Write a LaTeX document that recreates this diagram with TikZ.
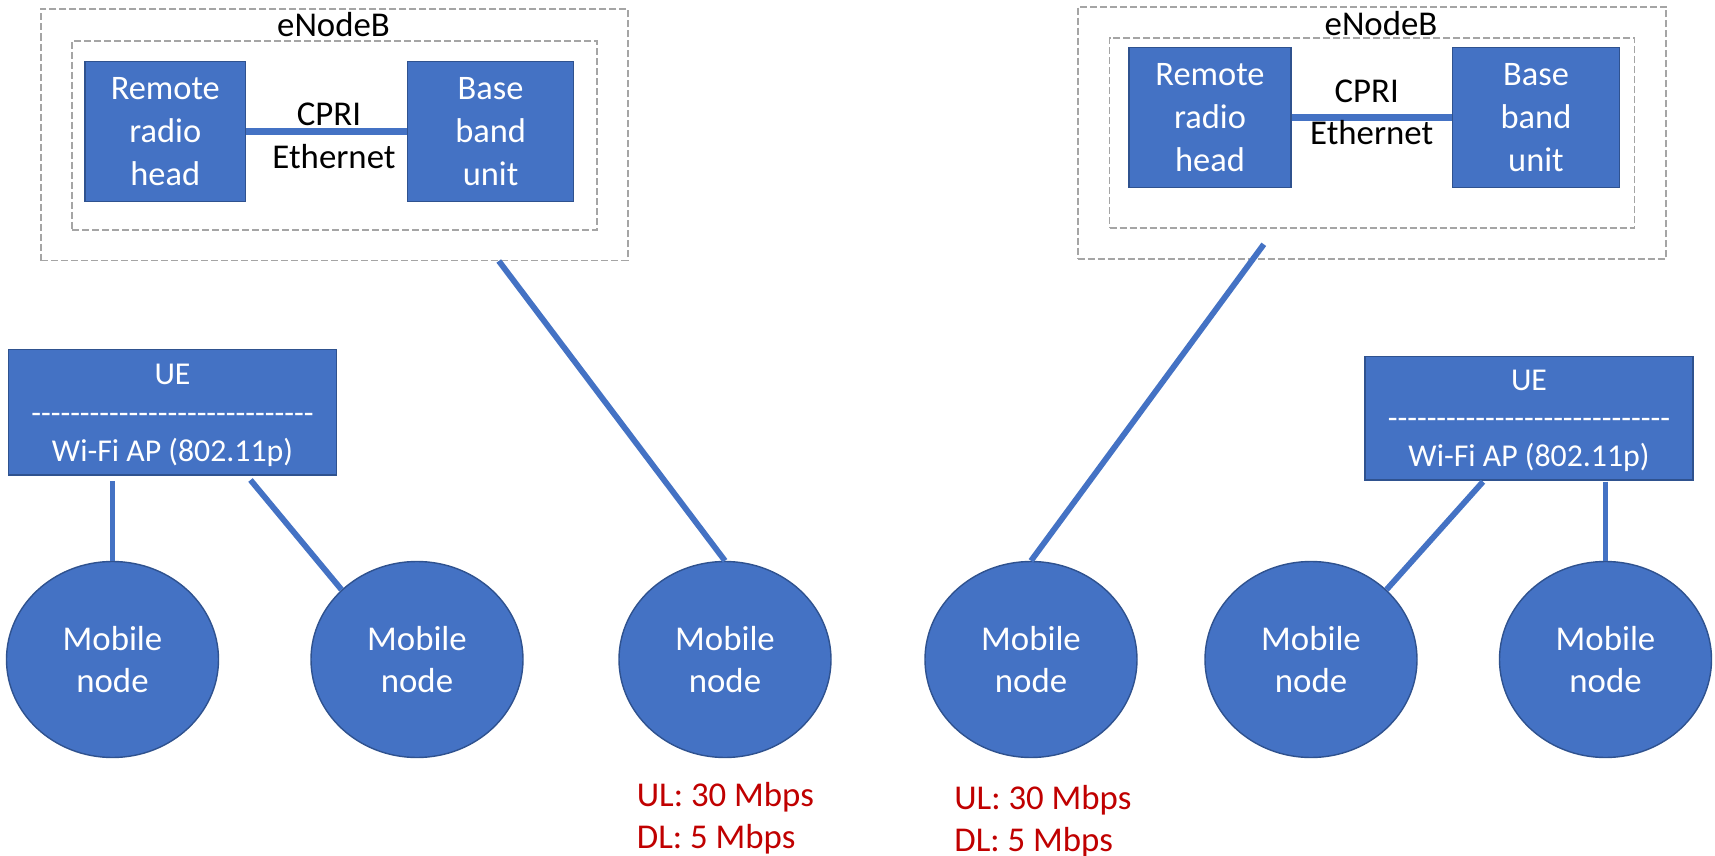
\documentclass[tikz,border=0pt]{standalone}
\usepackage{fontspec}
\setmainfont{Carlito}
\usetikzlibrary{shapes.geometric,calc}
\definecolor{nodeblue}{HTML}{4472C4}
\definecolor{edgeblue}{HTML}{2F528F}
\definecolor{boxgray}{HTML}{A5A5A5}
\definecolor{ratered}{HTML}{C00000}
% a row of separate hyphens (kept apart so they do not merge into dashes)
\newcommand\dashrow{\foreach \k in {1,...,29}{-\kern0pt}}
\begin{document}
\begin{tikzpicture}[x=0.5pt,y=-0.5pt,
  unitbox/.style={draw=edgeblue, line width=0.7pt, fill=nodeblue, text=white,
    align=center, inner sep=0pt, minimum height=70pt,
    font=\fontsize{17.2}{21.5}\selectfont},
  mobile/.style={ellipse, draw=edgeblue, line width=0.7pt, fill=nodeblue,
    text=white, align=center, inner sep=0pt, minimum width=106pt,
    minimum height=98pt, font=\fontsize{17.4}{21.15}\selectfont},
  uebox/.style={draw=edgeblue, line width=0.7pt, fill=nodeblue, inner sep=0pt},
  uetext/.style={text=white, align=center, anchor=base, inner sep=0pt,
    font=\fontsize{15.9}{19.15}\selectfont},
  container/.style={draw=boxgray, line width=0.95pt,
    dash pattern=on 3.5pt off 1.5pt, inner sep=0pt},
  caption/.style={text=black, anchor=base, inner sep=0pt,
    font=\fontsize{17.4}{21}\selectfont},
  wire/.style={draw=nodeblue, line width=2.9pt},
  fronthaul/.style={draw=nodeblue, line width=3.5pt},
  rate/.style={text=ratered, align=left, anchor=base west, inner sep=0pt,
    font=\fontsize{17.4}{21}\selectfont}
]
\fill[white] (0,0) rectangle (1715,856);
\useasboundingbox (0,0) rectangle (1715,856);

% ---- left eNodeB ----
\node[container, minimum width=293.5pt, minimum height=125.75pt] (enbAouter) at (334.3,134.75) {};
\node[container, minimum width=262.4pt, minimum height=94.65pt] (enbAinner) at (334.6,135.35) {};
\node[caption] (enbAname) at (333.5,36.7) {eNodeB};
\node[unitbox, minimum width=80.4pt] (rrhA) at (165.3,131.7) {Remote\\radio\\head};
\node[unitbox, minimum width=82.9pt] (bbuA) at (490.6,131.7) {Base\\band\\unit};
\draw[fronthaul] (rrhA) -- (bbuA);
\node[caption] (cpriA) at (329,126) {CPRI};
\node[caption] (ethA) at (334,168.3) {Ethernet};

% ---- right eNodeB ----
\node[container, minimum width=294.1pt, minimum height=126.3pt] (enbBouter) at (1371.8,133) {};
\node[container, minimum width=262.5pt, minimum height=95.3pt] (enbBinner) at (1372,133) {};
\node[caption] (enbBname) at (1381,35.5) {eNodeB};
\node[unitbox, minimum width=81pt] (rrhB) at (1210,117.7) {Remote\\radio\\head};
\node[unitbox, minimum width=83.5pt] (bbuB) at (1536,117.7) {Base\\band\\unit};
\draw[fronthaul] (rrhB) -- (bbuB);
\node[caption] (cpriB) at (1366.7,102.7) {CPRI};
\node[caption] (ethB) at (1371.7,145) {Ethernet};

% ---- UE / Wi-Fi access points (text anchored on its last baseline) ----
\node[uebox, minimum width=164.2pt, minimum height=62.85pt] (ueA) at (172.5,412.2) {};
\node[uetext] (ueAtext) at ($(ueA.north)+(0,112.8)$) {UE\\\dashrow\\Wi-Fi AP (802.11p)};
\node[uebox, minimum width=164pt, minimum height=61.75pt] (ueB) at (1529,418.2) {};
\node[uetext] (ueBtext) at ($(ueB.north)+(0,111)$) {UE\\\dashrow\\Wi-Fi AP (802.11p)};

% ---- mobile nodes ----
\node[mobile] (mA) at (112.5,659.5) {Mobile\\node};
\node[mobile] (mB) at (417,659.5) {Mobile\\node};
\node[mobile] (mC) at (725,659.5) {Mobile\\node};
\node[mobile] (mD) at (1031,659.5) {Mobile\\node};
\node[mobile] (mE) at (1311,659.5) {Mobile\\node};
\node[mobile] (mF) at (1605.5,659.5) {Mobile\\node};

% ---- radio links ----
\coordinate (ueAfootA) at (112.5,481);
\coordinate (ueAfootB) at (250.5,480);
\coordinate (enbAfoot) at (498.8,261);
\coordinate (enbBfoot) at (1263.8,244.3);
\coordinate (ueBfootA) at (1483,481.7);
\coordinate (ueBfootB) at (1605.5,481.7);
\draw[wire] (ueAfootA) -- (mA.north);
\draw[wire] (ueAfootB) -- (mB.north west);
\draw[wire] (enbAfoot) -- (mC.north);
\draw[wire] (enbBfoot) -- (mD.north);
\draw[wire] (ueBfootA) -- (mE.north east);
\draw[wire] (ueBfootB) -- (mF.north);

% ---- data rates (anchored on the DL baseline) ----
\node[rate] (rateC) at (636.5,848.3) {UL: 30 Mbps\\DL: 5 Mbps};
\node[rate] (rateD) at (954,851.7) {UL: 30 Mbps\\DL: 5 Mbps};
\end{tikzpicture}
\end{document}
